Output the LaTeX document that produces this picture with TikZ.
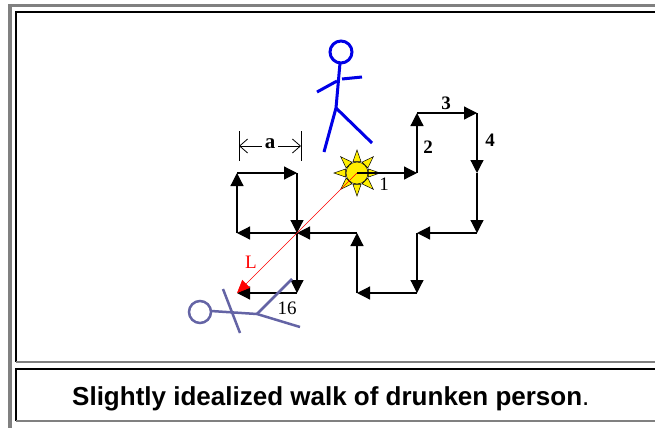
\documentclass[tikz,border=0pt]{standalone}
\usepackage{fontspec}
\setmainfont{Liberation Serif}
\newfontfamily\capfont{Liberation Sans}
\usetikzlibrary{arrows.meta}
\definecolor{framegray}{RGB}{128,128,128}
\definecolor{soberblue}{RGB}{0,0,230}
\definecolor{drunkblue}{RGB}{100,100,165}
\definecolor{sunyellow}{RGB}{255,238,0}
\begin{document}
\begin{tikzpicture}[x=1pt,y=-1pt,
	walk/.style={line width=1.2pt,-{Triangle[length=13pt,width=13pt]}},
	ray/.style={fill=sunyellow,draw=black,line width=0.5pt},
	numlbl/.style={font=\fontsize{19}{19}\selectfont,inner sep=0pt},
	dimline/.style={line width=0.8pt,-{Straight Barb[length=8pt,width=14pt]}}]
	\useasboundingbox (0,0) rectangle (655,428);
	% table frame
	\fill[framegray] (8,4) rectangle (12,428);
	\fill[framegray] (8,4) rectangle (655,7);
	\draw[line width=2pt] (16,362) -- (16,12) -- (655,12);
	\draw[framegray,line width=1.5pt] (16,362) -- (655,362);
	\draw[line width=2pt] (16,421) -- (16,369) -- (655,369);
	\draw[framegray,line width=1.5pt] (16,421) -- (655,421);
	% grid points of the walk
	\coordinate (p0) at (357,173);
	\coordinate (p1) at (417,173);
	\coordinate (p2) at (417,113);
	\coordinate (p3) at (477,113);
	\coordinate (p4) at (477,173);
	\coordinate (p5) at (477,233);
	\coordinate (p6) at (417,233);
	\coordinate (p7) at (417,293);
	\coordinate (p8) at (357,293);
	\coordinate (p9) at (357,233);
	\coordinate (p10) at (297,233);
	\coordinate (p11) at (237,233);
	\coordinate (p12) at (237,173);
	\coordinate (p13) at (297,173);
	\coordinate (p14) at (297,233);
	\coordinate (p15) at (297,293);
	\coordinate (p16) at (237,293);
	% sun at the start
	\begin{scope}[shift={(p0)}]
		\filldraw[ray] (0:23) -- (20:12) -- (-20:12) -- cycle;
		\filldraw[ray] (45:23) -- (65:12) -- (25:12) -- cycle;
		\filldraw[ray] (90:23) -- (110:12) -- (70:12) -- cycle;
		\filldraw[ray] (135:23) -- (155:12) -- (115:12) -- cycle;
		\filldraw[ray] (180:23) -- (200:12) -- (160:12) -- cycle;
		\filldraw[ray] (225:23) -- (245:12) -- (205:12) -- cycle;
		\filldraw[ray] (270:23) -- (290:12) -- (250:12) -- cycle;
		\filldraw[ray] (315:23) -- (335:12) -- (295:12) -- cycle;
		\filldraw[ray] (0,0) circle (11);
	\end{scope}
	% the steps
	\draw[walk] (p0) -- (p1);
	\draw[walk] (p1) -- (p2);
	\draw[walk] (p2) -- (p3);
	\draw[walk] (p3) -- (p4);
	\draw[walk] (p4) -- (p5);
	\draw[walk] (p5) -- (p6);
	\draw[walk] (p6) -- (p7);
	\draw[walk] (p7) -- (p8);
	\draw[walk] (p8) -- (p9);
	\draw[walk] (p9) -- (p10);
	\draw[walk] (p10) -- (p11);
	\draw[walk] (p11) -- (p12);
	\draw[walk] (p12) -- (p13);
	\draw[walk] (p13) -- (p14);
	\draw[walk] (p14) -- (p15);
	\draw[walk] (p15) -- (p16);
	% end to end distance
	\draw[red,line width=0.6pt,-{Triangle[length=13pt,width=11pt]}] (p0) -- (p16);
	\node[numlbl,text=red] (lenL) at (251,262) {L};
	% step labels
	\node[numlbl] (n1) at (384,184) {1};
	\node[numlbl] (n2) at (428,147) {\bfseries 2};
	\node[numlbl] (n3) at (446,103) {\bfseries 3};
	\node[numlbl] (n4) at (490,140) {\bfseries 4};
	\node[numlbl] (n16) at (287,308) {16};
	% step length a
	\coordinate (ta) at (239,146);
	\coordinate (tb) at (301,146);
	\draw[line width=0.8pt] (239,131) -- (239,161);
	\draw[line width=0.8pt] (301,131) -- (301,161);
	\node[numlbl,font=\fontsize{21}{21}\selectfont] (alen) at (270,144) {\bfseries a};
	\draw[dimline] (alen.west) ++(-3,2) -- (ta);
	\draw[dimline] (alen.east) ++(3,2) -- (tb);
	% sober walker
	\begin{scope}[soberblue,line width=3pt]
		\draw (341,52) circle (11);
		\draw (340,63) -- (336,108);
		\draw (317,92) -- (337,81);
		\draw (342,79) -- (362,77);
		\draw (336,108) -- (324,152);
		\draw (336,108) -- (372,143);
	\end{scope}
	% fallen walker
	\begin{scope}[drunkblue,line width=2.5pt]
		\draw (200,312) circle (11);
		\draw (211,311) -- (257,314);
		\draw (223,289) -- (240,333);
		\draw (257,314) -- (292,279);
		\draw (257,314) -- (300,327);
	\end{scope}
	% caption
	\node[anchor=base west,inner sep=0pt,font=\capfont\fontsize{26}{26}\selectfont] (caption) at (72,405) {\bfseries Slightly idealized walk of drunken person\mdseries .};
\end{tikzpicture}
\end{document}
